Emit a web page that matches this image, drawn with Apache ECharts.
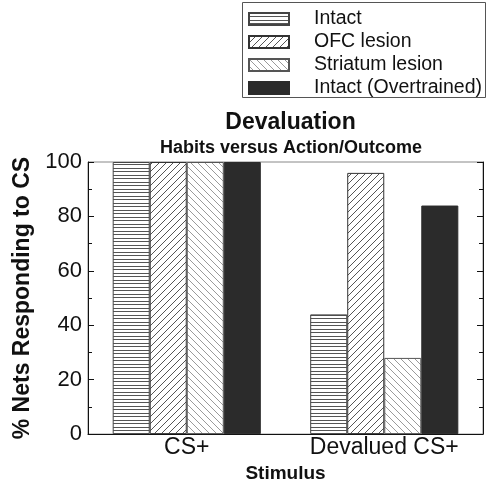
<!DOCTYPE html>
<html><head><meta charset="utf-8">
<script src="https://cdn.jsdelivr.net/npm/echarts@6/dist/echarts.min.js"></script>
<style>html,body{margin:0;padding:0;background:#fff}#c{width:487px;height:488px}</style>
</head><body><div id="c"></div>
<script>
const categories = ['CS+', 'Devalued CS+'];
const seriesNames = ['Intact', 'OFC lesion', 'Striatum lesion', 'Intact (Overtrained)'];
const intact = [100, 44];
const ofcLesion = [100, 96];
const striatumLesion = [100, 28];
const intactOvertrained = [100, 84];
const yTicks = [0, 20, 40, 60, 80, 100];

function pattern(kind) {
  const c = document.createElement('canvas');
  const ctx = c.getContext('2d');
  if (kind === 'h') {
    c.width = 8; c.height = 7;
    ctx.fillStyle = '#fff'; ctx.fillRect(0, 0, 8, 7);
    ctx.strokeStyle = '#555'; ctx.lineWidth = 1;
    ctx.beginPath();
    ctx.moveTo(0, 0.5); ctx.lineTo(8, 0.5);
    ctx.moveTo(0, 3.5); ctx.lineTo(8, 3.5);
    ctx.stroke();
  } else {
    const n = 7;
    c.width = n; c.height = n;
    ctx.fillStyle = '#fff'; ctx.fillRect(0, 0, n, n);
    ctx.strokeStyle = kind === 'f' ? '#555' : '#9a9a9a';
    ctx.lineWidth = 1;
    ctx.beginPath();
    if (kind === 'f') {
      ctx.moveTo(0, n); ctx.lineTo(n, 0);
      ctx.moveTo(-1, 1); ctx.lineTo(1, -1);
      ctx.moveTo(n - 1, n + 1); ctx.lineTo(n + 1, n - 1);
    } else {
      ctx.moveTo(0, 0); ctx.lineTo(n, n);
      ctx.moveTo(-1, n - 1); ctx.lineTo(1, n + 1);
      ctx.moveTo(n - 1, -1); ctx.lineTo(n + 1, 1);
    }
    ctx.stroke();
  }
  return { image: c, repeat: 'repeat' };
}

const fills = [pattern('h'), pattern('f'), pattern('b'), '#2b2b2b'];
const borders = ['#444', '#333', '#555', '#2b2b2b'];
const dataSets = [intact, ofcLesion, striatumLesion, intactOvertrained];

const chart = echarts.init(document.getElementById('c'));
const fontFam = 'Liberation Sans, Arial, sans-serif';
const yAxisBase = {
  type: 'value', min: 0, max: 100, interval: 20,
  axisLine: { show: true, lineStyle: { color: '#111', width: 1 } },
  axisTick: { show: true, inside: true, length: 6, lineStyle: { color: '#111' } },
  minorTick: { show: true, splitNumber: 2, length: 4, lineStyle: { color: '#111' } },
  splitLine: { show: false }
};
chart.setOption({
  animation: false,
  backgroundColor: '#fff',
  title: [
    { text: 'Devaluation', left: 285.5, textAlign: 'center', top: 106,
      textStyle: { fontFamily: fontFam, fontSize: 23, fontWeight: 'bold', color: '#111' } },
    { text: 'Habits versus Action/Outcome', left: 286, textAlign: 'center', top: 134,
      textStyle: { fontFamily: fontFam, fontSize: 18, fontWeight: 'bold', color: '#111' } }
  ],
  legend: {
    orient: 'vertical', left: 243, top: 4, itemWidth: 40, itemHeight: 12, itemGap: 3,
    icon: 'rect',
    data: seriesNames,
    textStyle: { fontFamily: fontFam, fontSize: 19.5, color: '#111', lineHeight: 19.5, padding: [0, 0, 0, 20] }
  },
  graphic: [{
    type: 'rect', shape: { x: 242.5, y: 2.5, width: 243, height: 95 },
    style: { fill: 'none', stroke: '#555', lineWidth: 1 }, z: 100
  }],
  grid: { left: 88, right: 4, top: 162, bottom: 49, show: true, borderColor: '#888', borderWidth: 1 },
  xAxis: {
    type: 'category', data: categories,
    name: 'Stimulus', nameLocation: 'middle', nameGap: 28,
    nameTextStyle: { fontFamily: fontFam, fontSize: 19, fontWeight: 'bold', color: '#111' },
    axisLine: { lineStyle: { color: '#111' } },
    axisTick: { show: false },
    axisLabel: { fontFamily: fontFam, fontSize: 23, color: '#111', margin: 2 }
  },
  yAxis: [
    Object.assign({}, yAxisBase, {
      position: 'left',
      name: '% Nets Responding to CS', nameLocation: 'middle', nameGap: 50,
      nameTextStyle: { fontFamily: fontFam, fontSize: 23, fontWeight: 'bold', color: '#111' },
      axisLabel: { fontFamily: fontFam, fontSize: 22, color: '#111', margin: 6,
        formatter: v => yTicks.indexOf(v) >= 0 ? String(v) : '' }
    }),
    Object.assign({}, yAxisBase, { position: 'right', axisLabel: { show: false } })
  ],
  series: dataSets.map((d, i) => ({
    type: 'bar', name: seriesNames[i], data: d,
    barGap: 0, barCategoryGap: '25%',
    itemStyle: { color: fills[i], borderColor: borders[i], borderWidth: 1 }
  }))
});
</script></body></html>
